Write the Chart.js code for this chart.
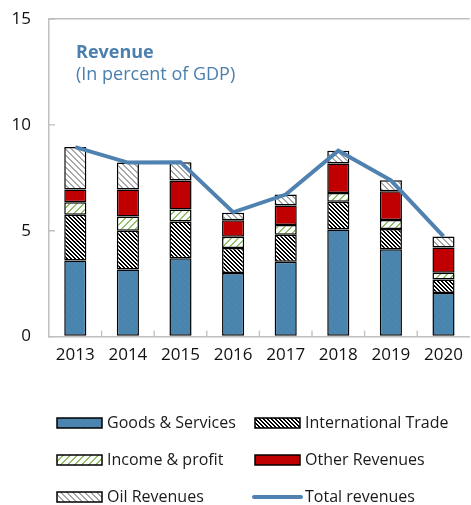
<!DOCTYPE html>
<html><head><meta charset="utf-8">
<script src="https://cdn.jsdelivr.net/npm/chart.js@4"></script>
<style>html,body{margin:0;padding:0;background:#fff}#wrap{width:471px;height:505px}</style>
</head><body><div id="wrap"><canvas id="c" width="471" height="505"></canvas></div>
<script>
const years = ['2013','2014','2015','2016','2017','2018','2019','2020'];
const goodsServices      = [3.60, 3.17, 3.70, 3.00, 3.54, 5.06, 4.13, 2.06];
const internationalTrade = [2.15, 1.83, 1.74, 1.19, 1.27, 1.31, 0.95, 0.64];
const incomeProfit       = [0.60, 0.67, 0.56, 0.52, 0.46, 0.41, 0.43, 0.32];
const otherRevenues      = [0.60, 1.28, 1.37, 0.78, 0.92, 1.39, 1.35, 1.19];
const oilRevenues        = [2.00, 1.27, 0.87, 0.36, 0.52, 0.61, 0.52, 0.52];
const totalRevenues      = [8.95, 8.22, 8.24, 5.87, 6.71, 8.78, 7.38, 4.73];
const yTicks = [0, 5, 10, 15];
const titleText = 'Revenue';
const subtitleText = '(In percent of GDP)';

const FONT = 'Open Sans';
const BLUE = '#4b86b0';
const LINE = '#4f82b0';

function hatch(bg, fg, size, thick, down) {
  const c = document.createElement('canvas'); c.width = c.height = size;
  const g = c.getContext('2d');
  if (bg) { g.fillStyle = bg; g.fillRect(0, 0, size, size); }
  g.fillStyle = fg;
  for (let i = 0; i < size; i++) {
    for (let k = 0; k < thick; k++) {
      const x = (i + k) % size;
      const y = down ? i : size - 1 - i;
      g.fillRect(x, y, 1, 1);
    }
  }
  return g.createPattern(c, 'repeat');
}
const pGoods = hatch(BLUE, '#4680a9', 6, 1, true);
const pIntl = hatch('#ffffff', '#000000', 4, 2, true);
const pIncome = hatch('#ffffff', '#8fc065', 7, 2, false);
const pOil = hatch('#ffffff', '#a8a8a8', 6, 2, true);

const barCommon = { borderColor: '#000', borderWidth: 1.5, barPercentage: 0.42, categoryPercentage: 1, stack: 'rev', order: 1, borderSkipped: false };

const datasets = [
  Object.assign({ label: 'Goods & Services', data: goodsServices, backgroundColor: pGoods }, barCommon),
  Object.assign({ label: 'International Trade', data: internationalTrade, backgroundColor: pIntl }, barCommon),
  Object.assign({ label: 'Income & profit', data: incomeProfit, backgroundColor: pIncome }, barCommon),
  Object.assign({ label: 'Other Revenues', data: otherRevenues, backgroundColor: '#c00000' }, barCommon),
  Object.assign({ label: 'Oil Revenues', data: oilRevenues, backgroundColor: pOil }, barCommon),
  { type: 'line', label: 'Total revenues', data: totalRevenues, borderColor: LINE, borderWidth: 4, pointRadius: 0, tension: 0, fill: false, stack: 'tot', order: 0 }
];

const innerTicks = {
  id: 'innerTicks',
  afterDraw(chart) {
    const { ctx, chartArea: a, scales: { x, y } } = chart;
    ctx.save();
    ctx.strokeStyle = '#bfbfbf'; ctx.lineWidth = 1.3;
    ctx.beginPath();
    y.ticks.forEach(t => { const py = y.getPixelForValue(t.value); ctx.moveTo(a.left, py); ctx.lineTo(a.left + 6, py); });
    for (let i = 1; i < x.ticks.length; i++) {
      const px = (x.getPixelForTick(i - 1) + x.getPixelForTick(i)) / 2;
      ctx.moveTo(px, a.bottom); ctx.lineTo(px, a.bottom - 6);
    }
    ctx.stroke();
    ctx.restore();
  }
};

const titlePlugin = {
  id: 'titleIn',
  afterDraw(chart) {
    const { ctx, chartArea: a } = chart;
    ctx.save();
    ctx.fillStyle = '#4a7fae';
    ctx.textBaseline = 'middle'; ctx.textAlign = 'left';
    ctx.font = 'bold 18px "' + FONT + '"';
    ctx.fillText(titleText, a.left + 27, 53);
    ctx.font = '18px "' + FONT + '"';
    ctx.fillText(subtitleText, a.left + 27, 75);
    ctx.restore();
  }
};

const legendPlugin = {
  id: 'gridLegend',
  afterDraw(chart) {
    const { ctx } = chart;
    const cols = [57, 255], rows = [423, 460, 497];
    ctx.save();
    ctx.font = '16px "' + FONT + '"';
    ctx.textBaseline = 'middle'; ctx.textAlign = 'left';
    chart.data.datasets.forEach((ds, i) => {
      const cx = cols[i % 2], cy = rows[Math.floor(i / 2)];
      if (ds.type === 'line') {
        ctx.strokeStyle = ds.borderColor; ctx.lineWidth = 4; ctx.lineCap = 'round';
        ctx.beginPath(); ctx.moveTo(cx - 1, cy); ctx.lineTo(cx + 46, cy); ctx.stroke();
      } else {
        ctx.fillStyle = ds.backgroundColor;
        ctx.fillRect(cx, cy - 5, 45, 10);
        ctx.strokeStyle = '#000'; ctx.lineWidth = 1.5;
        ctx.strokeRect(cx, cy - 5, 45, 10);
      }
      ctx.fillStyle = '#1a1a1a';
      ctx.fillText(ds.label, cx + 50, cy);
    });
    ctx.restore();
  }
};

new Chart(document.getElementById('c'), {
  type: 'bar',
  data: { labels: years, datasets },
  options: {
    responsive: false, animation: false, devicePixelRatio: 1,
    layout: { padding: { left: 12, right: 1, top: 19, bottom: 132 } },
    plugins: { legend: { display: false }, tooltip: { enabled: false }, title: { display: false } },
    scales: {
      x: {
        stacked: true,
        grid: { display: false, drawTicks: false },
        border: { display: true, color: '#bfbfbf', width: 1.5 },
        ticks: { color: '#111', font: { family: FONT, size: 17 }, padding: 8, maxRotation: 0 }
      },
      y: {
        stacked: true, min: 0, max: 15,
        afterBuildTicks: s => { s.ticks = yTicks.map(v => ({ value: v })); },
        afterFit: s => { s.width = 37; s.paddingTop = 0; s.paddingBottom = 0; },
        grid: { drawTicks: false, color: c => (c.tick && c.tick.value === 15) ? '#bfbfbf' : 'rgba(0,0,0,0)', lineWidth: 1.5 },
        border: { display: true, color: '#bfbfbf', width: 1.5 },
        ticks: { color: '#111', font: { family: FONT, size: 17 }, padding: 18 }
      }
    }
  },
  plugins: [innerTicks, titlePlugin, legendPlugin]
});
</script>
</body></html>
